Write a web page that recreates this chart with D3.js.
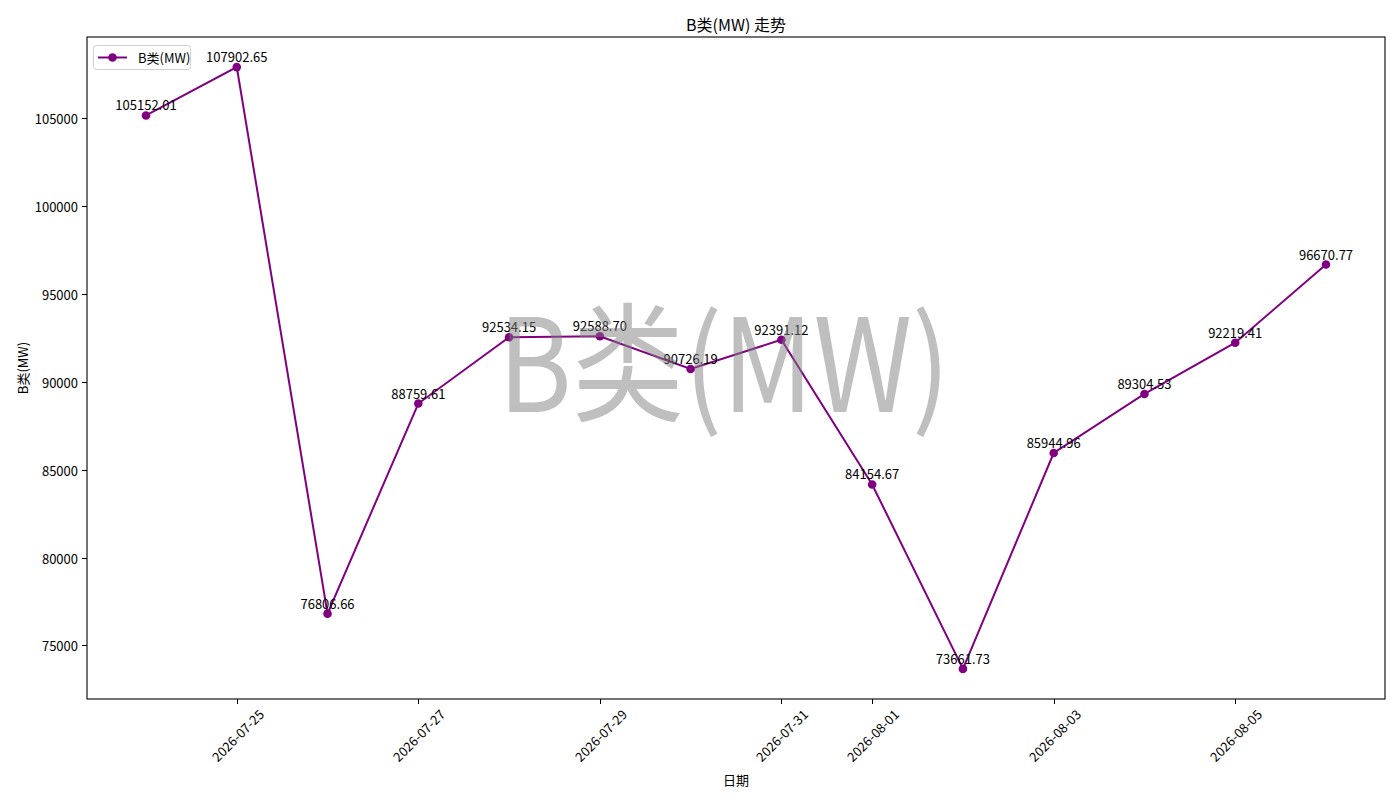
<!DOCTYPE html>
<html><head><meta charset="utf-8">
<script src="https://cdn.jsdelivr.net/npm/d3@7/dist/d3.min.js"></script>
<style>
body{margin:0;background:#fff;}
text{font-family:"Noto Sans CJK SC","DejaVu Sans",sans-serif;}
</style></head>
<body><svg id="c" width="1400" height="800"></svg>
<script>
const dates = ["2026-07-24","2026-07-25","2026-07-26","2026-07-27","2026-07-28","2026-07-29","2026-07-30","2026-07-31","2026-08-01","2026-08-02","2026-08-03","2026-08-04","2026-08-05","2026-08-06"];
const values = [105152.01,107902.65,76806.66,88759.61,92534.15,92588.70,90726.19,92391.12,84154.67,73661.73,85944.96,89304.53,92219.41,96670.77];
const xTickLabels = ["2026-07-25","2026-07-27","2026-07-29","2026-07-31","2026-08-01","2026-08-03","2026-08-05"];
const yTicks = [75000,80000,85000,90000,95000,100000,105000];
const seriesName = "B类(MW)";
const titleText = "B类(MW) 走势";
const xLabelText = "日期";

const svg = d3.select("#c");
const L=87,R=1385,T=37,B=699;
const color="#800080";
const parse=d3.utcParse("%Y-%m-%d");
const xs=dates.map(parse);
const x0=xs[0], x1=xs[xs.length-1];
const span=x1-x0;
const x=d3.scaleUtc().domain([new Date(+x0-span*0.05), new Date(+x1+span*0.05)]).range([L,R]);
const vmin=d3.min(values), vmax=d3.max(values), vr=vmax-vmin;
const y=d3.scaleLinear().domain([vmin-vr*0.05, vmax+vr*0.05]).range([B,T]);

// axes frame
svg.append("rect").attr("x",L).attr("y",T).attr("width",R-L).attr("height",B-T)
  .attr("fill","none").attr("stroke","#000").attr("stroke-width",1.1);

// y ticks
const yg=svg.append("g");
yTicks.forEach(v=>{
  const yy=Math.round(y(v))+0.5;
  yg.append("line").attr("x1",L-5).attr("x2",L).attr("y1",yy).attr("y2",yy).attr("stroke","#000").attr("stroke-width",1);
  yg.append("text").attr("x",L-9).attr("y",yy).attr("text-anchor","end").attr("dominant-baseline","central")
    .attr("font-size",13).text(v);
});

// x ticks
const xg=svg.append("g");
xTickLabels.forEach(s=>{
  const xx=Math.round(x(parse(s)))+0.5;
  xg.append("line").attr("x1",xx).attr("x2",xx).attr("y1",B).attr("y2",B+5).attr("stroke","#000").attr("stroke-width",1);
  const t=xg.append("text").attr("font-size",13).attr("text-anchor","middle").attr("dominant-baseline","central").text(s);
  const w=t.node().getComputedTextLength(), h=13;
  const half=(w+h)*Math.SQRT1_2/2;
  const cy=B+8+half;
  t.attr("x",xx).attr("y",cy).attr("transform",`rotate(-45,${xx},${cy})`);
});

// line + points
const line=d3.line().x((d,i)=>x(xs[i])).y(d=>y(d));
svg.append("path").datum(values).attr("d",line).attr("fill","none").attr("stroke",color).attr("stroke-width",2);
svg.append("g").selectAll("circle").data(values).join("circle")
  .attr("cx",(d,i)=>x(xs[i])).attr("cy",d=>y(d)).attr("r",4.3).attr("fill",color);
svg.append("g").selectAll("text").data(values).join("text")
  .attr("x",(d,i)=>x(xs[i])).attr("y",d=>y(d)-5).attr("text-anchor","middle")
  .attr("font-size",13).attr("fill","#000").text(d=>d.toFixed(2));

// watermark
svg.append("text").attr("x",724).attr("y",412).attr("text-anchor","middle")
  .attr("font-size",129).attr("textLength",452).attr("lengthAdjust","spacingAndGlyphs")
  .attr("fill","gray").attr("fill-opacity",0.5).text(seriesName);

// legend
const lg=svg.append("g");
lg.append("rect").attr("x",93.5).attr("y",45.5).attr("width",97).attr("height",24).attr("rx",3)
  .attr("fill","#fff").attr("fill-opacity",0.8).attr("stroke","#d0d0d0");
lg.append("line").attr("x1",98).attr("x2",127).attr("y1",57.5).attr("y2",57.5).attr("stroke",color).attr("stroke-width",2);
lg.append("circle").attr("cx",112.5).attr("cy",57.5).attr("r",4.3).attr("fill",color);
lg.append("text").attr("x",138).attr("y",57.5).attr("dominant-baseline","central").attr("font-size",13).text(seriesName);

// title and labels
svg.append("text").attr("x",(L+R)/2).attr("y",24).attr("text-anchor","middle").attr("dominant-baseline","central")
  .attr("font-size",16).text(titleText);
svg.append("text").attr("x",(L+R)/2).attr("y",779).attr("text-anchor","middle").attr("dominant-baseline","central")
  .attr("font-size",13).text(xLabelText);
svg.append("text").attr("transform","translate(22,368) rotate(-90)").attr("text-anchor","middle").attr("dominant-baseline","central")
  .attr("font-size",13).text(seriesName);
</script></body></html>
